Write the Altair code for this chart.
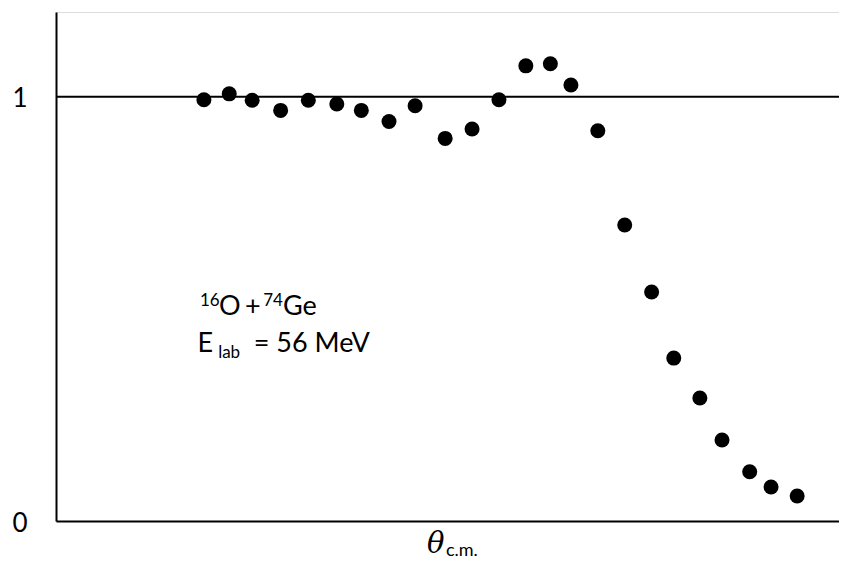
import altair as alt
import pandas as pd

# angle (arbitrary units along the axis) and ratio to Rutherford
theta = [18.7, 21.9, 24.8, 28.4, 31.9, 35.5, 38.6, 42.1, 45.4, 49.2, 52.6, 56.0,
         59.4, 62.5, 65.1, 68.5, 71.9, 75.3, 78.1, 81.4, 84.2, 87.7, 90.4, 93.7]
ratio = [0.993, 1.007, 0.992, 0.968, 0.992, 0.983, 0.968, 0.942, 0.979, 0.902, 0.924, 0.993,
         1.073, 1.078, 1.028, 0.920, 0.698, 0.540, 0.384, 0.290, 0.191, 0.116, 0.080, 0.059]

y_ticks = [0, 1]

# annotation pieces (text, x in data units, baseline y in data units, font size)
ann_text = ["16", "O", "+", "74", "Ge", "E", "lab", "= 56 MeV"]
ann_x = [18.2, 20.6, 23.9, 26.2, 28.7, 17.9, 20.5, 25.0]
ann_y = [0.507, 0.486, 0.486, 0.507, 0.486, 0.399, 0.384, 0.399]
ann_size = [17, 27, 27, 17, 27, 27, 17, 27]

# axis title pieces
theta_sym = ["θ"]
theta_sym_x = [46.9]
theta_sym_y = [-0.0760]
sub_text = ["c.m."]
sub_x = [49.3]
sub_y = [-0.0830]

FONT = "Lato"

df = pd.DataFrame({"theta": theta, "ratio": ratio})
ann = pd.DataFrame({"t": ann_text, "x": ann_x, "y": ann_y, "s": ann_size})
th = pd.DataFrame({"t": theta_sym, "x": theta_sym_x, "y": theta_sym_y})
sb = pd.DataFrame({"t": sub_text, "x": sub_x, "y": sub_y})

xs = alt.Scale(domain=[0, 98.99], nice=False, zero=False)
ys = alt.Scale(domain=[0, 1.2], nice=False)

points = alt.Chart(df).mark_circle(size=225, color="black", opacity=1).encode(
    x=alt.X("theta:Q", scale=xs,
            axis=alt.Axis(title=None, labels=False, ticks=False, grid=False,
                          domainColor="black", domainWidth=2)),
    y=alt.Y("ratio:Q", scale=ys,
            axis=alt.Axis(title=None, values=y_ticks, ticks=False, grid=False,
                          domainColor="black", domainWidth=2, labelFont=FONT,
                          labelFontSize=26, labelColor="black", labelPadding=29,
                          labelOffset=2, format="d")),
)

rule = alt.Chart(pd.DataFrame({"r": [1]})).mark_rule(color="black", strokeWidth=2).encode(
    y=alt.Y("r:Q", scale=ys)
)

ann_layer = alt.Chart(ann).mark_text(align="left", baseline="alphabetic", font=FONT,
                                     color="black").encode(
    x=alt.X("x:Q", scale=xs), y=alt.Y("y:Q", scale=ys), text="t:N",
    size=alt.Size("s:Q", scale=None, legend=None),
)

th_layer = alt.Chart(th).mark_text(align="left", baseline="alphabetic", font="DejaVu Serif",
                                   fontStyle="italic", fontSize=29, color="black").encode(
    x=alt.X("x:Q", scale=xs), y=alt.Y("y:Q", scale=ys), text="t:N",
)

sb_layer = alt.Chart(sb).mark_text(align="left", baseline="alphabetic", font=FONT,
                                   fontSize=18, color="black").encode(
    x=alt.X("x:Q", scale=xs), y=alt.Y("y:Q", scale=ys), text="t:N",
)

chart = alt.layer(rule, points, ann_layer, th_layer, sb_layer).properties(
    width=783, height=509,
    autosize=alt.AutoSizeParams(type="none"),
    padding={"left": 48, "top": 4, "right": 0, "bottom": 40},
).configure_view(stroke=None).configure(background="white")

chart.save("out.html", embed_options={"renderer": "svg", "actions": False})
